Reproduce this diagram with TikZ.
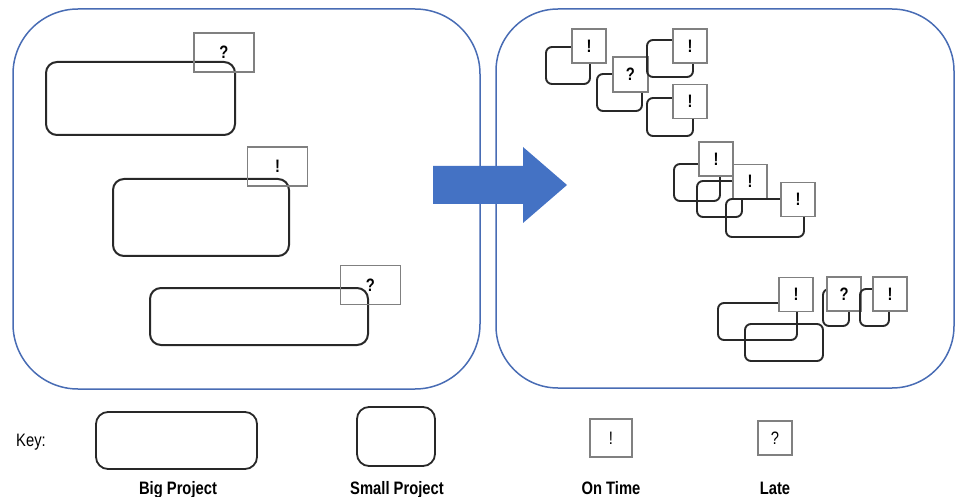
\documentclass[tikz,border=0pt]{standalone}
\usepackage{fontspec}
\setmainfont{Liberation Sans}
\newfontfamily\condf[FakeStretch=0.82]{Liberation Sans}
\definecolor{panelblue}{RGB}{72,108,180}
\definecolor{arrowblue}{RGB}{68,114,196}
\definecolor{projcol}{RGB}{40,40,40}
\definecolor{boxgray}{RGB}{128,128,128}
\begin{document}
\begin{tikzpicture}[x=1pt,y=-1pt,
  panel/.style={draw=panelblue,line width=1.5pt},
  bigp/.style={draw=projcol,line width=2pt,rounded corners=11pt},
  smallp/.style={draw=projcol,line width=1.9pt,rounded corners=6pt},
  markbox/.style={draw=boxgray,line width=1.2pt,inner sep=0pt,
    font=\condf\bfseries\fontsize{18}{18}\selectfont},
  lbox/.style={markbox,minimum width=60pt,minimum height=39pt},
  rbox/.style={markbox,fill=white,minimum width=34pt,minimum height=34pt},
  keybox/.style={draw=boxgray,line width=1.3pt,inner sep=0pt,
    font=\condf\fontsize{18}{18}\selectfont},
  keyp/.style={draw=projcol,line width=1.8pt,rounded corners=12pt},
  keylabel/.style={font=\condf\bfseries\fontsize{18}{20}\selectfont,anchor=base,inner sep=0pt}
]
\useasboundingbox (0,0) rectangle (956,497);

% panels
\draw[panel,rounded corners=65pt] (13,9) rectangle (480,389);
\draw[panel,rounded corners=62pt] (496,9) rectangle (954,388);

% left panel: big projects
\draw[bigp] (46,62) rectangle (235,135);
\node[lbox] (l1) at (224,52.5) {?};
\draw[bigp] (113,179) rectangle (289,256);
\node[lbox] (l2) at (277.5,166.5) {!};
\draw[bigp] (150,288) rectangle (368,345);
\node[lbox] (l3) at (370.5,285) {?};

% right panel: top cluster
\draw[smallp] (546,47) rectangle (590,84);
\node[rbox] (ra) at (589,46) {!};
\draw[smallp] (597,74) rectangle (642,111);
\node[rbox,minimum width=35pt,minimum height=35pt] (rb) at (630.5,74.5) {?};
\draw[smallp] (647,40) rectangle (693,77);
\node[rbox] (rc) at (690,46) {!};
\draw[smallp] (647,98) rectangle (693,136);
\node[rbox] (rd) at (690,101.5) {!};

% right panel: middle cluster
\draw[smallp] (674,164) rectangle (720,201);
\node[rbox] (m1) at (716,159) {!};
\draw[smallp] (697,181) rectangle (742,217);
\node[rbox] (m2) at (750,181.5) {!};
\draw[smallp] (726,199) rectangle (804,237);
\node[rbox] (m3) at (798,199.5) {!};

% right panel: bottom cluster
\draw[smallp] (718,303) rectangle (797,340);
\draw[smallp] (745,324) rectangle (823,361);
\node[rbox] (be) at (796,294.5) {!};
\draw[smallp] (823,289) rectangle (849,326);
\node[rbox] (bf) at (844,294) {?};
\draw[smallp] (860,289) rectangle (889,326);
\node[rbox] (bg) at (890,294) {!};

% arrow
\fill[arrowblue] (433,166) -- (523,166) -- (523,147) -- (567,185)
  -- (523,223) -- (523,204) -- (433,204) -- cycle;

% key
\node[anchor=base west,inner sep=0pt,font=\condf\fontsize{18}{20}\selectfont] (key) at (16,446) {Key:};
\draw[keyp] (96,412) rectangle (257,469);
\draw[keyp] (357,407) rectangle (435,466);
\node[keybox,minimum width=42pt,minimum height=38pt] (kot) at (611,438) {!};
\node[keybox,minimum width=34pt,minimum height=34pt] (klt) at (775,438) {?};
\node[keylabel] (lbig) at (178,494) {Big Project};
\node[keylabel] (lsmall) at (397,494) {Small Project};
\node[keylabel] (lon) at (611,494) {On Time};
\node[keylabel] (llate) at (775,494) {Late};
\end{tikzpicture}
\end{document}
